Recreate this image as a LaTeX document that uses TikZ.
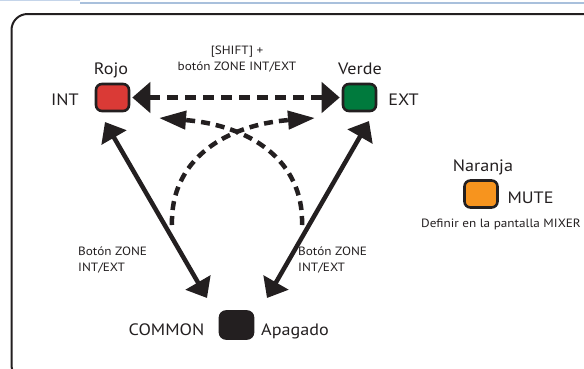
\documentclass[tikz,border=0pt]{standalone}
\usepackage{fontspec}
\setmainfont{PT Sans}[FakeStretch=1.1]
\usetikzlibrary{arrows.meta}
\definecolor{ink}{HTML}{231F20}
\definecolor{rojoc}{HTML}{DA3A36}
\definecolor{verdec}{HTML}{007A3D}
\definecolor{naranjac}{HTML}{F7941E}
\definecolor{bluel}{HTML}{C5D5EA}
\definecolor{blued}{HTML}{A9C0DC}
\tikzset{
  keybox/.style={draw=ink, line width=2.6pt, rounded corners=6pt, minimum width=33pt, minimum height=27pt, inner sep=0pt},
  big/.style={font=\fontsize{16.5}{19}\selectfont, text=ink, inner sep=0pt},
  small/.style={font=\fontsize{12}{15.8}\selectfont, text=ink, inner sep=0pt},
  toparrow/.style={ink, line width=5pt, dash pattern=on 11pt off 7pt, {Triangle[length=18pt,width=30pt]}-{Triangle[length=18pt,width=30pt]}},
  curvearrow/.style={ink, line width=4.5pt, dash pattern=on 9pt off 6pt, -{Triangle[length=27pt,width=18pt]}},
  solidarrow/.style={ink, line width=4.5pt, {Triangle[length=18pt,width=28pt]}-{Triangle[length=18pt,width=28pt]}},
}
\begin{document}
\begin{tikzpicture}[x=1pt,y=-1pt]
\useasboundingbox (0,0) rectangle (584,368);
\begin{scope}
\clip (0,0) rectangle (584,368);
\fill[bluel] (0,0) rectangle (80,1.2);
\fill[blued] (80,2) rectangle (584,4);
\draw[ink, line width=2pt, rounded corners=16pt] (11.5,14) rectangle (599,381);
\end{scope}

% boxes
\node[keybox, fill=rojoc] (rojo) at (112.5,97.5) {};
\node[keybox, fill=verdec] (verde) at (359.5,97.5) {};
\node[keybox, fill=naranjac] (naranja) at (481,194) {};
\node[keybox, fill=ink] (common) at (236.5,325) {};

% labels
\node[big, anchor=base] (lrojo) at (111,74) {Rojo};
\node[big, anchor=base] (lint) at (65,105) {INT};
\node[big, anchor=base] (lverde) at (360,74) {Verde};
\node[big, anchor=base] (lext) at (403.5,105) {EXT};
\node[big, anchor=base] (lnaranja) at (483,171.5) {Naranja};
\node[big, anchor=base] (lmute) at (530.5,203) {MUTE};
\node[small, anchor=base] (ldef) at (501,227) {Definir en la pantalla MIXER};
\node[big, anchor=base] (lcommon) at (166.5,335) {COMMON};
\node[big, anchor=base] (lapagado) at (295,335) {Apagado};
\node[small, anchor=base west, align=left] (lbl) at (78,271.5) {Botón ZONE\\INT/EXT};
\node[small, anchor=base west, align=left] (lbr) at (298,271.5) {Botón ZONE\\INT/EXT};
\node[small, anchor=base, align=center] (lshift) at (237,70.5) {[SHIFT] +\\botón ZONE INT/EXT};

% arrows
\draw[toparrow] ([xshift=2pt]rojo.east) -- ([xshift=-2pt]verde.west);

\coordinate (ca0) at (172,225);
\coordinate (ca1) at (315,118);
\coordinate (cb0) at (302,225);
\coordinate (cb1) at (159,118);
\draw[curvearrow] (ca0) .. controls (170,160) and (225,125) .. (ca1);
\draw[curvearrow] (cb0) .. controls (304,160) and (249,125) .. (cb1);

\coordinate (sl0) at (105,122);
\coordinate (sl1) at (207,298);
\coordinate (sr0) at (369,121);
\coordinate (sr1) at (267,298);
\draw[solidarrow] (sl0) -- (sl1);
\draw[solidarrow] (sr0) -- (sr1);
\end{tikzpicture}
\end{document}
